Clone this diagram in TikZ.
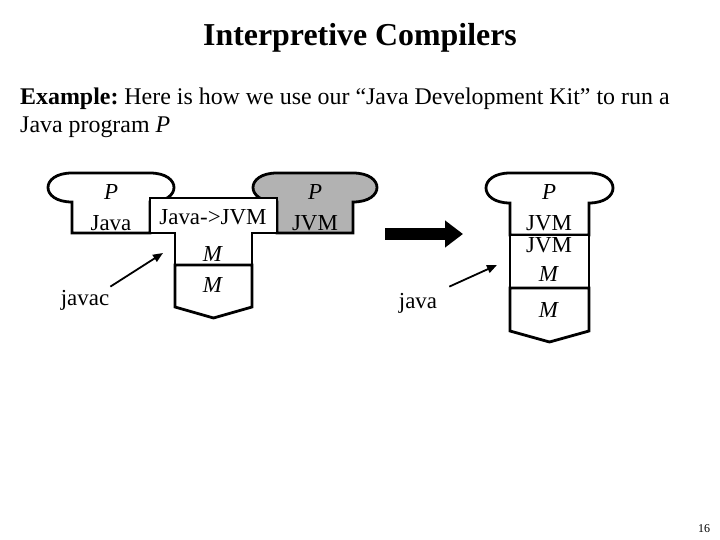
\documentclass[tikz,border=0pt]{standalone}
\usepackage{fontspec}
\setmainfont{Liberation Serif}
\usetikzlibrary{arrows.meta}
\frenchspacing

\definecolor{tileline}{HTML}{000000}
\definecolor{tilebg}  {HTML}{FFFFFF}
\definecolor{jvmbg}   {HTML}{B2B2B2}

\tikzset{
  tile/.style={draw=tileline, line width=2.8bp, line join=miter},
  tilelabel/.style={font=\fontsize{23}{26}\selectfont, inner sep=0pt, anchor=base},
  pointer/.style={line width=1.8bp, -{Triangle[length=10bp,width=8bp]}},
  bigarrow/.style={line width=12bp, -{Triangle[length=18bp,width=26bp]}},
}

%% program tile: #1 left stem x, #2 right stem x, #3 top y, #4 neck y, #5 bottom y, #6 fill
\newcommand{\progtile}[6]{%
  \draw[tile, fill=#6] (#1,#5) -- (#1,#4)
    .. controls (#1-32,#4) and (#1-32,#3) .. (#1,#3) -- (#2,#3)
    .. controls (#2+32,#3) and (#2+32,#4) .. (#2,#4) -- (#2,#5) -- cycle;%
}
%% machine tile: #1 left x, #2 right x, #3 top y, #4 bottom y
\newcommand{\machtile}[4]{%
  \draw[tile, fill=tilebg] (#1,#3) -- (#2,#3) -- (#2,#4)
    -- ({(#1+#2)/2},#4+11) -- (#1,#4) -- cycle;%
}

\begin{document}
\begin{tikzpicture}[x=1bp, y=-1bp]
\useasboundingbox (0,0) rectangle (720,540);

%% ── Heading ──────────────────────────────────────────────
\node[inner sep=0pt, anchor=base, font=\fontsize{32}{36}\selectfont\bfseries]
  (title) at (360,46) {Interpretive Compilers};
\node[inner sep=0pt, anchor=base west, font=\fontsize{24}{28}\selectfont]
  (intro1) at (20,105) {\textbf{Example:} Here is how we use our “Java Development Kit” to run a};
\node[inner sep=0pt, anchor=base west, font=\fontsize{24}{28}\selectfont]
  (intro2) at (20,133) {Java program \textit{P}};

%% ── Left: compiling P with javac ─────────────────────────
\progtile{72}{150}{173}{202}{233}{tilebg}
\progtile{277}{353}{173}{202}{233}{jvmbg}
\draw[tile, fill=tilebg] (150,198) -- (277,198) -- (277,233) -- (252,233)
  -- (252,265) -- (175,265) -- (175,233) -- (150,233) -- cycle;
\machtile{175}{252}{265}{307}

\node[tilelabel] (srcP)    at (111,200) {\textit{P}};
\node[tilelabel] (srcLang) at (111,231) {Java};
\node[tilelabel] (javacT)  at (213,225) {Java->JVM};
\node[tilelabel] (javacM)  at (213,262) {\textit{M}};
\node[tilelabel] (machM1)  at (213,292) {\textit{M}};
\node[tilelabel] (objP)    at (315,200) {\textit{P}};
\node[tilelabel] (objLang) at (315,231) {JVM};

\node[tilelabel] (javac) at (85,305) {javac};
\coordinate (javactip) at (163,253);
\draw[pointer] ([xshift=1bp,yshift=3bp]javac.north east) -- (javactip);

%% ── Big arrow ────────────────────────────────────────────
\coordinate (bigtail) at (385,234);
\coordinate (bighead) at (463,234);
\draw[bigarrow] (bigtail) -- (bighead);

%% ── Right: running P on the JVM interpreter ──────────────
\progtile{510}{589}{173}{203}{235}{tilebg}
\draw[tile, fill=tilebg] (510,235) rectangle (589,288);
\machtile{510}{589}{288}{331}

\node[tilelabel] (runP)    at (549,200) {\textit{P}};
\node[tilelabel] (runLang) at (549,231) {JVM};
\node[tilelabel] (interpT) at (549,253) {JVM};
\node[tilelabel] (interpM) at (549,282) {\textit{M}};
\node[tilelabel] (machM2)  at (549,317) {\textit{M}};

\node[tilelabel] (java) at (418,308) {java};
\coordinate (javatip) at (497,265);
\draw[pointer] ([xshift=12bp,yshift=6bp]java.north east) -- (javatip);

%% ── Page number ──────────────────────────────────────────
\node[inner sep=0pt, anchor=base, font=\fontsize{12}{14}\selectfont]
  (pagenum) at (704,532) {16};
\end{tikzpicture}
\end{document}
